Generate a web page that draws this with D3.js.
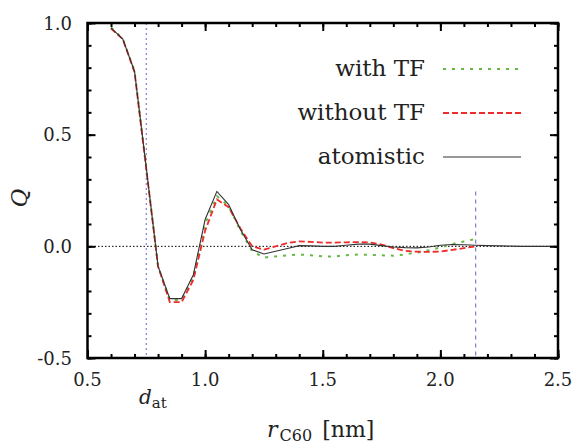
<!DOCTYPE html>
<html>
<head>
<meta charset="utf-8">
<script src="https://cdn.jsdelivr.net/npm/d3@7"></script>
<style>
    body { margin: 0; background: #fff; }
    text { font-family: "DejaVu Serif", serif; }
</style>
</head>
<body>
<script>
const width = 573
const height = 444
const margin = { left: 87.5, right: 15, top: 23, bottom: 86 }

// r_C60 in nm, step 0.05
const rAll = [0.60, 0.65, 0.70, 0.75, 0.80, 0.85, 0.90, 0.95, 1.00, 1.05,
    1.10, 1.15, 1.20, 1.25, 1.30, 1.35, 1.40, 1.45, 1.50, 1.55,
    1.60, 1.65, 1.70, 1.75, 1.80, 1.85, 1.90, 1.95, 2.00, 2.05,
    2.10, 2.15, 2.20, 2.25, 2.30, 2.35, 2.40, 2.45, 2.50]
const atomistic = [0.978, 0.928, 0.783, 0.35, -0.09, -0.234, -0.234, -0.127, 0.12, 0.246,
    0.187, 0.075, -0.015, -0.034, -0.022, -0.01, 0.003, 0.002, 0.0, 0.0,
    0.005, 0.01, 0.01, 0.003, -0.003, -0.006, -0.007, -0.003, 0.005, 0.008,
    0.007, 0.005, 0.003, 0.002, 0.001, 0.0, 0.0, 0.0, 0.0]
const withoutTF = [0.975, 0.928, 0.78, 0.345, -0.09, -0.25, -0.25, -0.15, 0.07, 0.21,
    0.175, 0.08, 0.0, -0.015, 0.0, 0.015, 0.022, 0.02, 0.017, 0.017,
    0.018, 0.019, 0.017, 0.008, -0.008, -0.02, -0.024, -0.025, -0.023, -0.016,
    -0.008, 0.0]
const withTF = [0.98, 0.93, 0.785, 0.35, -0.09, -0.24, -0.24, -0.135, 0.1, 0.225,
    0.18, 0.07, -0.022, -0.05, -0.045, -0.04, -0.037, -0.04, -0.045, -0.045,
    -0.04, -0.037, -0.038, -0.04, -0.042, -0.036, -0.028, -0.018, -0.005, 0.01,
    0.022, 0.033]
const xTicks = [0.5, 1.0, 1.5, 2.0, 2.5]
const yTicks = [-0.5, 0.0, 0.5, 1.0]
const dAt = 0.75
const rCut = 2.15

const svg = d3.select("body")
    .append("svg")
    .attr("width", width)
    .attr("height", height)

const x = d3.scaleLinear().domain([0.5, 2.5]).range([margin.left, width - margin.right])
const y = d3.scaleLinear().domain([-0.5, 1.0]).range([height - margin.bottom, margin.top])

const line = d3.line()
    .x(d => x(d[0]))
    .y(d => y(d[1]))

// reference lines
svg.append("line")
    .attr("x1", x(0.5)).attr("x2", x(2.5))
    .attr("y1", y(0)).attr("y2", y(0))
    .attr("stroke", "#000")
    .attr("stroke-width", 1)
    .attr("stroke-dasharray", "1.5,2")

svg.append("line")
    .attr("x1", x(dAt)).attr("x2", x(dAt))
    .attr("y1", y(1.0)).attr("y2", y(-0.5))
    .attr("stroke", "#8a8ad0")
    .attr("stroke-width", 1.3)
    .attr("stroke-dasharray", "2,3")

svg.append("line")
    .attr("x1", x(rCut)).attr("x2", x(rCut))
    .attr("y1", y(0.245)).attr("y2", y(-0.5))
    .attr("stroke", "#7c7cc4")
    .attr("stroke-width", 1.2)
    .attr("stroke-dasharray", "4,4")

// curves
svg.append("path")
    .attr("d", line(withTF.map((v, i) => [rAll[i], v])))
    .attr("fill", "none")
    .attr("stroke", "#66b844")
    .attr("stroke-width", 2)
    .attr("stroke-dasharray", "3,6")

svg.append("path")
    .attr("d", line(withoutTF.map((v, i) => [rAll[i], v])))
    .attr("fill", "none")
    .attr("stroke", "#ee2a2a")
    .attr("stroke-width", 1.8)
    .attr("stroke-dasharray", "6,3")

svg.append("path")
    .attr("d", line(atomistic.map((v, i) => [rAll[i], v])))
    .attr("fill", "none")
    .attr("stroke", "#333")
    .attr("stroke-width", 1.1)

// axes, ticks inward on all four sides
const xMinor = d3.range(0.5, 2.5001, 0.1)
const yMinor = d3.range(-0.5, 1.0001, 0.1)

svg.append("g")
    .attr("transform", "translate(0," + y(-0.5) + ")")
    .call(d3.axisTop(x).tickValues(xMinor).tickSize(4).tickFormat(""))
svg.append("g")
    .attr("transform", "translate(0," + y(-0.5) + ")")
    .call(d3.axisTop(x).tickValues(xTicks).tickSize(8).tickFormat(""))
svg.append("g")
    .attr("transform", "translate(0," + y(1.0) + ")")
    .call(d3.axisBottom(x).tickValues(xMinor).tickSize(4).tickFormat(""))
svg.append("g")
    .attr("transform", "translate(0," + y(1.0) + ")")
    .call(d3.axisBottom(x).tickValues(xTicks).tickSize(8).tickFormat(""))
svg.append("g")
    .attr("transform", "translate(" + x(0.5) + ",0)")
    .call(d3.axisRight(y).tickValues(yMinor).tickSize(4).tickFormat(""))
svg.append("g")
    .attr("transform", "translate(" + x(0.5) + ",0)")
    .call(d3.axisRight(y).tickValues(yTicks).tickSize(8).tickFormat(""))
svg.append("g")
    .attr("transform", "translate(" + x(2.5) + ",0)")
    .call(d3.axisLeft(y).tickValues(yMinor).tickSize(4).tickFormat(""))
svg.append("g")
    .attr("transform", "translate(" + x(2.5) + ",0)")
    .call(d3.axisLeft(y).tickValues(yTicks).tickSize(8).tickFormat(""))

svg.selectAll(".domain").remove()
svg.selectAll(".tick line").attr("stroke", "#000").attr("stroke-width", 2)

svg.append("rect")
    .attr("x", x(0.5)).attr("y", y(1.0))
    .attr("width", x(2.5) - x(0.5))
    .attr("height", y(-0.5) - y(1.0))
    .attr("fill", "none")
    .attr("stroke", "#000")
    .attr("stroke-width", 2.5)

// tick labels
svg.selectAll(".xlab")
    .data(xTicks)
    .enter()
    .append("text")
    .attr("x", d => x(d))
    .attr("y", 386)
    .attr("text-anchor", "middle")
    .attr("font-size", 18)
    .attr("fill", "#222")
    .text(d => d.toFixed(1))

svg.selectAll(".ylab")
    .data(yTicks)
    .enter()
    .append("text")
    .attr("x", 72)
    .attr("y", d => y(d) + 6.5)
    .attr("text-anchor", "end")
    .attr("font-size", 18)
    .attr("fill", "#222")
    .text(d => d.toFixed(1))

// d_at label
const dl = svg.append("text")
    .attr("x", 139)
    .attr("y", 404)
    .attr("font-size", 20)
    .attr("fill", "#222")
dl.append("tspan").attr("font-style", "italic").text("d")
dl.append("tspan").attr("font-size", 15).attr("dy", 4).text("at")

// axis titles
const xl = svg.append("text")
    .attr("x", 267)
    .attr("y", 437)
    .attr("font-size", 22)
    .attr("fill", "#222")
xl.append("tspan").attr("font-style", "italic").text("r")
xl.append("tspan").attr("font-size", 16).attr("dy", 4).attr("dx", 2).text("C60")
xl.append("tspan").attr("dy", -4).attr("dx", 10).text("[nm]")

svg.append("text")
    .attr("transform", "translate(27,198) rotate(-90)")
    .attr("text-anchor", "middle")
    .attr("font-size", 23)
    .attr("font-style", "italic")
    .attr("fill", "#222")
    .text("Q")

// legend
const legend = [
    { label: "with TF", color: "#66b844", dash: "3,6", w: 2 },
    { label: "without TF", color: "#ee2a2a", dash: "6,3", w: 1.8 },
    { label: "atomistic", color: "#333", dash: null, w: 1.1 }
]
const ly = d3.scaleLinear().domain([0, 2]).range([76, 164])

legend.forEach((d, i) => {
    svg.append("text")
        .attr("x", 425)
        .attr("y", ly(i))
        .attr("text-anchor", "end")
        .attr("font-size", 23)
        .attr("fill", "#222")
        .text(d.label)
    svg.append("line")
        .attr("x1", 443).attr("x2", 521)
        .attr("y1", ly(i) - 7).attr("y2", ly(i) - 7)
        .attr("stroke", d.color)
        .attr("stroke-width", d.w)
        .attr("stroke-dasharray", d.dash)
})
</script>
</body>
</html>
